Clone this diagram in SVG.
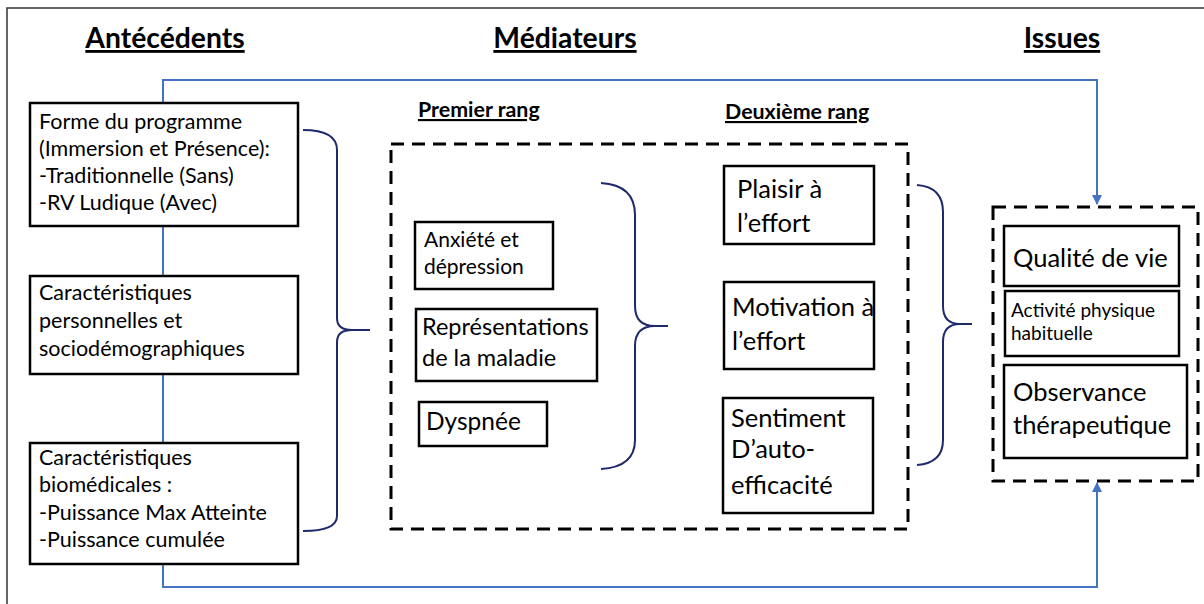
<svg xmlns="http://www.w3.org/2000/svg" width="1204" height="604" viewBox="0 0 1204 604">
<defs>
<marker id="arr" viewBox="0 0 10 10" refX="9" refY="5" markerWidth="5" markerHeight="5" orient="auto-start-reverse" markerUnits="strokeWidth">
<path d="M0,0 L10,5 L0,10 Z" fill="#4472C4"/>
</marker>
<style>
text{font-family:Lato,"Liberation Sans",sans-serif;fill:#000}
.t{font-weight:bold;font-size:28.3px;text-decoration:underline}
.s{font-weight:bold;font-size:21.4px;text-decoration:underline}
.box{fill:#fff;stroke:#000;stroke-width:2.5}
.dash{fill:none;stroke:#000;stroke-width:3;stroke-dasharray:13 8}
.blue{fill:none;stroke:#4472C4;stroke-width:2}
.brace{fill:none;stroke:#1F2A6B;stroke-width:2}
.l{font-size:21.5px}
.m{font-size:23.5px}
.b{font-size:25.5px}
.a{font-size:21px}
.sm{font-size:19px}
</style>
</defs>
<rect width="1204" height="604" fill="#fff"/>
<path d="M7,604 V8 H1204" fill="none" stroke="#333" stroke-width="1.5"/>

<g id="titles">
<text class="t" x="165" y="48" text-anchor="middle">Antécédents</text>
<text class="t" x="565" y="48" text-anchor="middle">Médiateurs</text>
<text class="t" x="1062" y="48" text-anchor="middle">Issues</text>
<text class="s" x="418" y="117">Premier rang</text>
<text class="s" x="725" y="119">Deuxième rang</text>
</g>

<g id="connectors">
<path class="blue" d="M163,103 V80 H1097 V204" marker-end="url(#arr)"/>
<path class="blue" d="M163,564 V587 H1097 V483" marker-end="url(#arr)"/>
<path class="blue" d="M163,226 V276"/>
<path class="blue" d="M163,374 V443"/>
<path class="brace" d="M303,130 Q337,130 337,150 V318 Q337,330 352,330 H370 M352,330 Q337,330 337,342 V516 Q337,531 303,531"/>
<path class="brace" d="M601,183 Q635,185 635,215 V306 Q635,326 655,326 H668 M655,326 Q635,326 635,346 V440 Q635,467 601,469"/>
<path class="brace" d="M917,185 Q943,187 943,212 V306 Q943,324 960,324 H972 M960,324 Q943,324 943,342 V440 Q943,463 917,465"/>
</g>

<g id="mediateurs-frame"><rect class="dash" x="391" y="144" width="517" height="385"/></g>
<g id="issues-frame"><rect class="dash" x="993" y="207" width="205" height="274"/></g>

<g id="n-forme">
<rect class="box" x="30" y="103" width="268" height="123"/>
<text class="l" x="39"><tspan x="39" y="129">Forme du programme</tspan><tspan x="39" y="156">(Immersion et Présence):</tspan><tspan x="39" y="183">-Traditionnelle (Sans)</tspan><tspan x="39" y="210">-RV Ludique (Avec)</tspan></text>
</g>
<g id="n-perso">
<rect class="box" x="30" y="276" width="268" height="98"/>
<text class="l"><tspan x="39" y="300">Caractéristiques</tspan><tspan x="39" y="328">personnelles et</tspan><tspan x="39" y="356">sociodémographiques</tspan></text>
</g>
<g id="n-bio">
<rect class="box" x="30" y="443" width="268" height="121"/>
<text class="l"><tspan x="39" y="465">Caractéristiques</tspan><tspan x="39" y="492">biomédicales :</tspan><tspan x="39" y="520">-Puissance Max Atteinte</tspan><tspan x="39" y="547">-Puissance cumulée</tspan></text>
</g>

<g id="n-anxiete">
<rect class="box" x="415" y="222" width="138" height="67"/>
<text class="a"><tspan x="424" y="247">Anxiété et</tspan><tspan x="424" y="274">dépression</tspan></text>
</g>
<g id="n-representations">
<rect class="box" x="416" y="309" width="181" height="72"/>
<text class="m"><tspan x="422" y="335">Représentations</tspan><tspan x="422" y="366">de la maladie</tspan></text>
</g>
<g id="n-dyspnee">
<rect class="box" x="419" y="402" width="128" height="44"/>
<text x="426" y="430" font-size="24.5">Dyspnée</text>
</g>

<g id="n-plaisir">
<rect class="box" x="724" y="166" width="150" height="78"/>
<text class="b"><tspan x="737" y="198">Plaisir à</tspan><tspan x="737" y="232">l’effort</tspan></text>
</g>
<g id="n-motivation">
<rect class="box" x="724" y="282" width="150" height="87"/>
<text class="b"><tspan x="732" y="316">Motivation à</tspan><tspan x="732" y="350">l’effort</tspan></text>
</g>
<g id="n-sentiment">
<rect class="box" x="723" y="398" width="150" height="115"/>
<text class="b"><tspan x="731" y="427">Sentiment</tspan><tspan x="731" y="458">D’auto-</tspan><tspan x="731" y="494">efficacité</tspan></text>
</g>

<g id="n-qualite">
<rect class="box" x="1004" y="226" width="175" height="60"/>
<text class="b" x="1013" y="267">Qualité de vie</text>
</g>
<g id="n-activite">
<rect class="box" x="1005" y="291" width="174" height="65"/>
<text class="sm"><tspan x="1011" y="317">Activité physique</tspan><tspan x="1011" y="340">habituelle</tspan></text>
</g>
<g id="n-observance">
<rect class="box" x="1004" y="365" width="183" height="93"/>
<text class="b"><tspan x="1013" y="401">Observance</tspan><tspan x="1013" y="434">thérapeutique</tspan></text>
</g>
</svg>
